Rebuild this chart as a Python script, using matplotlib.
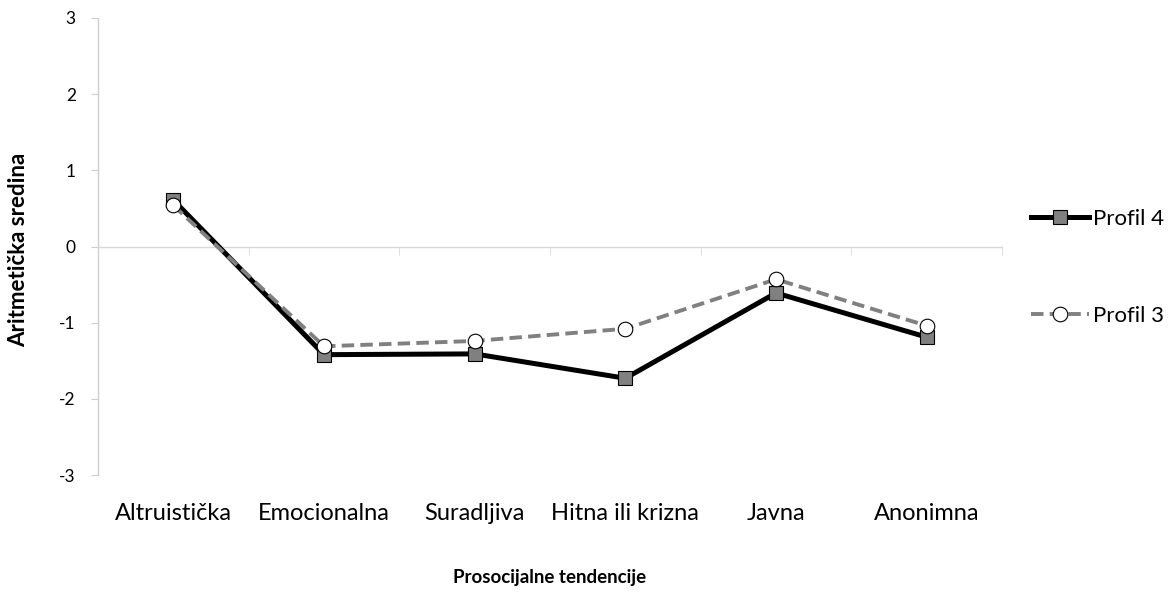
import matplotlib
matplotlib.use("Agg")
import matplotlib.pyplot as plt
import numpy as np

categories = ["Altruistička", "Emocionalna", "Suradljiva", "Hitna ili krizna", "Javna", "Anonimna"]
profil4 = [0.61, -1.42, -1.41, -1.73, -0.61, -1.19]
profil3 = [0.54, -1.31, -1.24, -1.08, -0.43, -1.04]
yticks = [-3, -2, -1, 0, 1, 2, 3]

plt.rcParams['font.family'] = ['Lato', 'DejaVu Sans']

W, H = 1174, 593
fig = plt.figure(figsize=(W / 100, H / 100), dpi=100)
ax = fig.add_axes([98 / W, 1 - 475 / H, 904 / W, 457 / H])

x = np.arange(1, len(categories) + 1)
ax.plot(x, profil4, color='black', lw=3.6, marker='s', markersize=10,
        markerfacecolor='#808080', markeredgecolor='black', markeredgewidth=0.8,
        label='Profil 4', zorder=3)
ax.plot(x, profil3, color='#808080', lw=2.8, dashes=(3.2, 1.6), marker='o', markersize=10.5,
        markerfacecolor='white', markeredgecolor='black', markeredgewidth=0.8,
        label='Profil 3', zorder=4)

ax.set_xlim(0.5, len(categories) + 0.5)
ax.set_ylim(-3, 3)
ax.set_yticks(yticks)
ax.set_yticklabels([str(v) for v in yticks], fontsize=12.5)

for s in ['top', 'right']:
    ax.spines[s].set_visible(False)
ax.spines['left'].set_color('#cfcfcf')
ax.spines['left'].set_linewidth(1.0)
ax.spines['bottom'].set_position(('data', 0))
ax.spines['bottom'].set_color('#d9d9d9')
ax.spines['bottom'].set_linewidth(1.0)
ax.tick_params(axis='y', direction='out', length=5, color='#cfcfcf', pad=11)

ax.set_xticks(x)
ax.set_xticklabels([])
ax.tick_params(axis='x', which='major', length=0)
ax.set_xticks(np.arange(0.5, len(categories) + 1.0, 1.0), minor=True)
ax.tick_params(axis='x', which='minor', direction='out', length=6, color='#d9d9d9')

sec = ax.secondary_xaxis(0.0)
sec.set_xticks(x)
sec.set_xticklabels(categories, fontsize=17)
sec.tick_params(length=0, pad=20)
sec.spines['bottom'].set_visible(False)

fig.text(19 / W, 1 - 250 / H, 'Aritmetička sredina', fontsize=16, fontweight='bold',
         rotation=90, ha='center', va='center')
fig.text(550 / W, 1 - 578 / H, 'Prosocijalne tendencije', fontsize=13.5,
         fontweight='bold', ha='center', va='center')

ax.legend(loc='upper left', bbox_to_anchor=(1022 / W, 1 - 200 / H), bbox_transform=fig.transFigure,
          frameon=False, fontsize=16, handlelength=2.6, handletextpad=0.2, labelspacing=3.45,
          borderaxespad=0)

fig.savefig('out.png', dpi=100)
